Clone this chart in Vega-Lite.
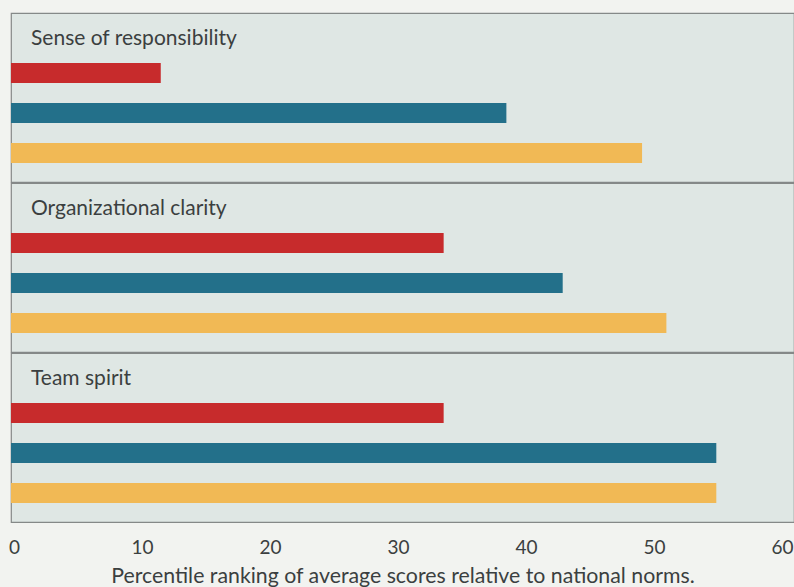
{
  "$schema": "https://vega.github.io/schema/vega-lite/v6.json",
  "background": "#f2f3f0",
  "padding": {"left": 8, "top": 12, "right": 0, "bottom": 0},
  "data": {
    "values": [
      {"dimension": "Sense of responsibility", "series": "A", "value": 11.7},
      {"dimension": "Sense of responsibility", "series": "B", "value": 38.7},
      {"dimension": "Sense of responsibility", "series": "C", "value": 49.3},
      {"dimension": "Organizational clarity", "series": "A", "value": 33.8},
      {"dimension": "Organizational clarity", "series": "B", "value": 43.1},
      {"dimension": "Organizational clarity", "series": "C", "value": 51.2},
      {"dimension": "Team spirit", "series": "A", "value": 33.8},
      {"dimension": "Team spirit", "series": "B", "value": 55.1},
      {"dimension": "Team spirit", "series": "C", "value": 55.1}
    ]
  },
  "facet": {
    "row": {
      "field": "dimension",
      "type": "nominal",
      "sort": ["Sense of responsibility", "Organizational clarity", "Team spirit"],
      "header": null
    }
  },
  "spacing": {"row": -1},
  "spec": {
    "width": 783,
    "height": 169,
    "layer": [
      {
        "mark": {"type": "bar"},
        "encoding": {
          "x": {
            "field": "value",
            "type": "quantitative",
            "scale": {"domain": [0, 61.17], "nice": false, "zero": true},
            "axis": {
              "values": [0, 10, 20, 30, 40, 50, 60],
              "title": "Percentile ranking of average scores relative to national norms."
            }
          },
          "y": {
            "field": "series",
            "type": "nominal",
            "scale": {
              "domain": ["_title", "A", "B", "C"],
              "paddingInner": 0.5,
              "paddingOuter": 0.3625,
              "align": 0.345
            },
            "axis": null
          },
          "color": {
            "field": "series",
            "type": "nominal",
            "scale": {"domain": ["A", "B", "C"], "range": ["#c72b2c", "#23708a", "#f1b955"]},
            "legend": null
          }
        }
      },
      {
        "transform": [{"filter": "datum.series == 'A'"}],
        "mark": {
          "type": "text",
          "align": "left",
          "baseline": "alphabetic",
          "dx": 20,
          "dy": 12,
          "font": "Lato",
          "fontSize": 21,
          "color": "#3b3f40"
        },
        "encoding": {
          "x": {"datum": 0, "type": "quantitative"},
          "y": {"datum": "_title", "type": "nominal"},
          "text": {"field": "dimension"}
        }
      }
    ]
  },
  "config": {
    "view": {"fill": "#dfe7e4", "stroke": "#858988", "strokeWidth": 1.2},
    "axisX": {
      "grid": false,
      "ticks": false,
      "domain": false,
      "labelFlush": false,
      "labelPadding": 15,
      "labelOffset": 3,
      "labelFont": "Lato",
      "labelFontSize": 19,
      "labelColor": "#3b3f40",
      "titleFont": "Lato",
      "titleFontSize": 21.3,
      "titleFontWeight": "normal",
      "titleColor": "#3b3f40",
      "titlePadding": 8
    }
  }
}
